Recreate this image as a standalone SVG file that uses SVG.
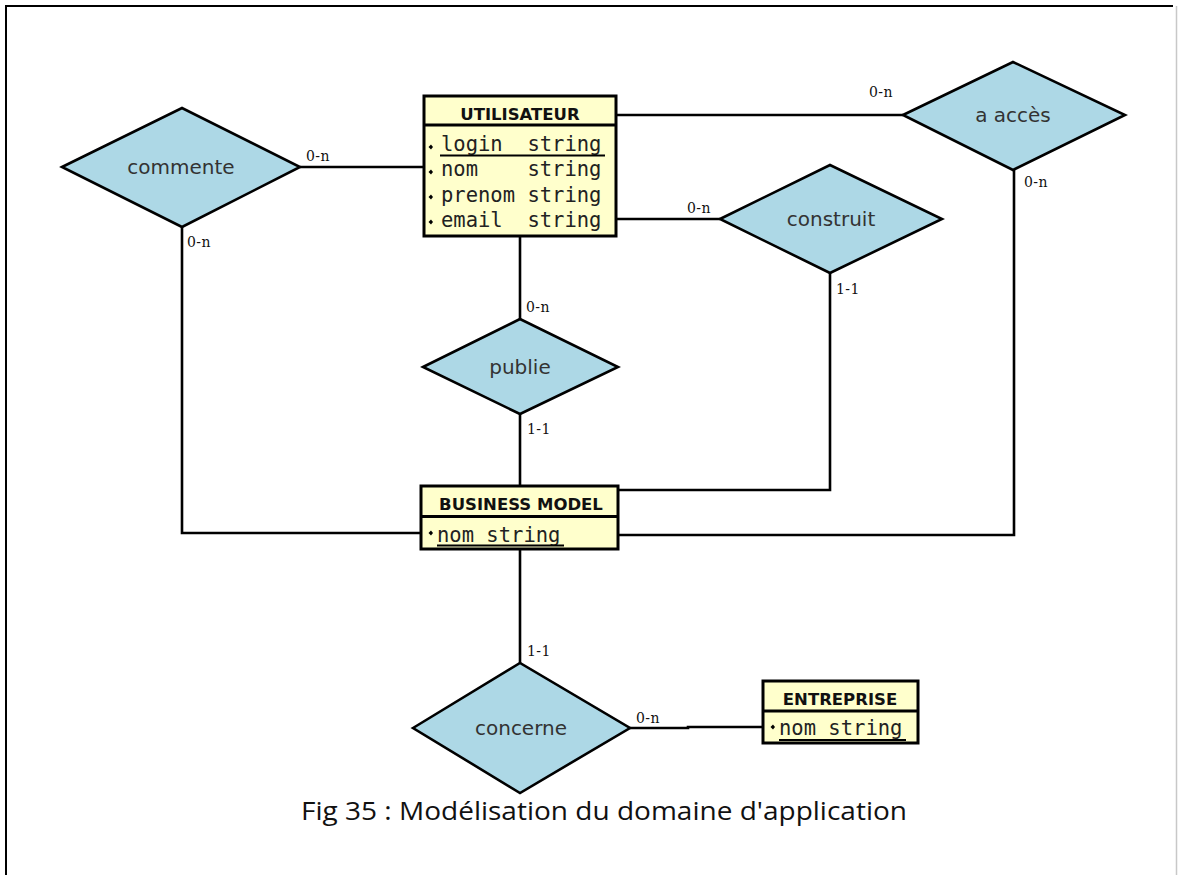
<svg xmlns="http://www.w3.org/2000/svg" width="1178" height="875" viewBox="0 0 1178 875">
  <style>
    .frame { fill: none; stroke: #000; stroke-width: 2; }
    .edge { fill: none; stroke: #000; stroke-width: 2.6; }
    .rel { fill: #add8e6; stroke: #000; stroke-width: 2.6; stroke-linejoin: miter; }
    .rel-label { font-family: "DejaVu Sans", sans-serif; font-size: 20px; fill: #333; text-anchor: middle; }
    .ent { fill: #ffffcc; stroke: #000; stroke-width: 3; }
    .ent-title { font-family: "DejaVu Sans", sans-serif; font-weight: bold; font-size: 16.5px; fill: #111; text-anchor: middle; }
    .attr { font-family: "DejaVu Sans Mono", monospace; font-size: 20.5px; fill: #222; white-space: pre; }
    .key { stroke: #000; stroke-width: 2; }
    .dot { fill: #000; }
    .card { font-family: "DejaVu Serif", serif; font-size: 14px; letter-spacing: 0.4px; fill: #111; }
    .caption { font-family: "Open Sans", sans-serif; font-size: 26px; fill: #111; text-anchor: middle; }
  </style>

  <rect width="1178" height="875" fill="#fff"/>
  <path class="frame" d="M6,875 V6 H1173"/>
  <line x1="1176.5" y1="6" x2="1176.5" y2="875" stroke="#c8c8c8" stroke-width="1.5"/>

  <!-- connectors -->
  <g id="connectors">
    <polyline class="edge" points="300,167 424,167"/>
    <polyline class="edge" points="182,227 182,533 421,533"/>
    <polyline class="edge" points="616,115 903,115"/>
    <polyline class="edge" points="1014,170 1014,535 618,535"/>
    <polyline class="edge" points="616,219 720,219"/>
    <polyline class="edge" points="830,273 830,490 618,490"/>
    <polyline class="edge" points="520,236 520,319"/>
    <polyline class="edge" points="520,414 520,486"/>
    <polyline class="edge" points="520,549 520,663"/>
    <polyline class="edge" points="630,728 688,728 688,727 763,727"/>

    <text class="card" x="306" y="161">0-n</text>
    <text class="card" x="187" y="247">0-n</text>
    <text class="card" x="869" y="97">0-n</text>
    <text class="card" x="1024" y="187">0-n</text>
    <text class="card" x="687" y="213">0-n</text>
    <text class="card" x="836" y="294">1-1</text>
    <text class="card" x="526" y="312">0-n</text>
    <text class="card" x="527" y="434">1-1</text>
    <text class="card" x="527" y="656">1-1</text>
    <text class="card" x="636" y="723">0-n</text>
  </g>

  <!-- relationships -->
  <g id="commente">
    <polygon class="rel" points="62,167 182,108 300,167 182,227"/>
    <text class="rel-label" x="181" y="174">commente</text>
  </g>
  <g id="a-acces">
    <polygon class="rel" points="903,115 1013,62 1125,115 1013,170"/>
    <text class="rel-label" x="1013" y="122">a accès</text>
  </g>
  <g id="construit">
    <polygon class="rel" points="720,219 830,165 942,219 830,273"/>
    <text class="rel-label" x="831" y="226">construit</text>
  </g>
  <g id="publie">
    <polygon class="rel" points="423,367 520,319 618,367 520,414"/>
    <text class="rel-label" x="520" y="374">publie</text>
  </g>
  <g id="concerne">
    <polygon class="rel" points="413,728 520,663 630,728 520,793"/>
    <text class="rel-label" x="521" y="735">concerne</text>
  </g>

  <!-- entities -->
  <g id="utilisateur">
    <rect class="ent" x="424" y="96" width="192" height="140"/>
    <line class="ent" x1="424" y1="125" x2="616" y2="125"/>
    <text class="ent-title" x="520" y="120">UTILISATEUR</text>
    <path class="dot" d="M428.5,147 l2.5,-2.5 l2,2.5 l-2,2.5z"/>
    <path class="dot" d="M428.5,172 l2.5,-2.5 l2,2.5 l-2,2.5z"/>
    <path class="dot" d="M428.5,197 l2.5,-2.5 l2,2.5 l-2,2.5z"/>
    <path class="dot" d="M428.5,222 l2.5,-2.5 l2,2.5 l-2,2.5z"/>
    <text class="attr" x="441" y="151">login  string</text>
    <line class="key" x1="440" y1="155.5" x2="605" y2="155.5"/>
    <text class="attr" x="441" y="176">nom    string</text>
    <text class="attr" x="441" y="202">prenom string</text>
    <text class="attr" x="441" y="227">email  string</text>
  </g>

  <g id="business-model">
    <rect class="ent" x="421" y="486" width="197" height="63"/>
    <line class="ent" x1="421" y1="516.5" x2="618" y2="516.5"/>
    <text class="ent-title" x="521" y="510">BUSINESS MODEL</text>
    <path class="dot" d="M428.5,533 l2.5,-2.5 l2,2.5 l-2,2.5z"/>
    <text class="attr" x="437" y="542">nom string</text>
    <line class="key" x1="437" y1="545.5" x2="564" y2="545.5"/>
  </g>

  <g id="entreprise">
    <rect class="ent" x="763" y="681" width="155" height="62"/>
    <line class="ent" x1="763" y1="711" x2="918" y2="711"/>
    <text class="ent-title" x="840" y="705">ENTREPRISE</text>
    <path class="dot" d="M770.5,727 l2.5,-2.5 l2,2.5 l-2,2.5z"/>
    <text class="attr" x="779" y="735">nom string</text>
    <line class="key" x1="779" y1="740" x2="906" y2="740"/>
  </g>

  <text class="caption" x="604" y="820" textLength="606" lengthAdjust="spacingAndGlyphs">Fig 35 : Modélisation du domaine d'application</text>
</svg>
